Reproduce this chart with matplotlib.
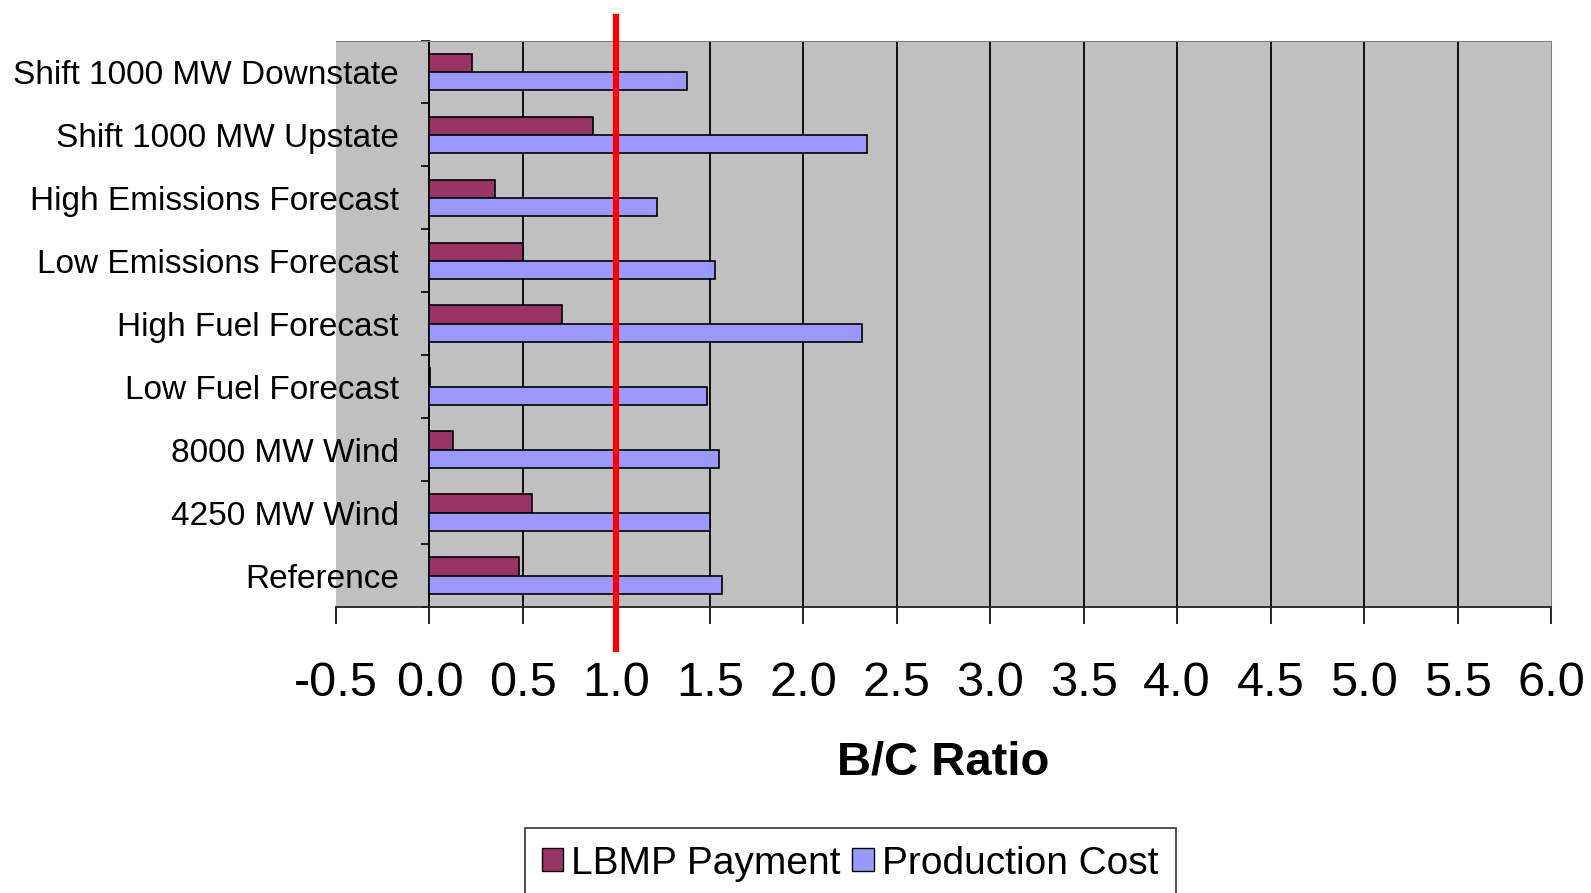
import numpy as np
import matplotlib
matplotlib.use('Agg')
import matplotlib.pyplot as plt
from matplotlib.patches import Patch

plt.rcParams['font.family'] = ['Liberation Sans', 'DejaVu Sans']

# bottom to top, as drawn
scenarios = ['Reference', '4250 MW Wind', '8000 MW Wind', 'Low Fuel Forecast',
             'High Fuel Forecast', 'Low Emissions Forecast', 'High Emissions Forecast',
             'Shift 1000 MW Upstate', 'Shift 1000 MW Downstate']
lbmp = [0.48, 0.55, 0.125, 0.005, 0.71, 0.50, 0.35, 0.876, 0.227]
prod_cost = [1.565, 1.50, 1.55, 1.487, 2.315, 1.525, 1.218, 2.34, 1.38]
xticks = np.arange(-0.5, 6.01, 0.5)
bc_line = 1.0

c_lbmp = '#993366'
c_pc = '#9999FF'

fig = plt.figure(figsize=(15.91, 8.93), dpi=100)
ax = fig.add_axes([336/1591, 1 - 607/893, 1215/1591, 566.5/893])
ax.set_facecolor('#C0C0C0')

y = np.arange(len(scenarios))
h = 0.29
ax.barh(y + h/2, lbmp, height=h, color=c_lbmp, edgecolor='black', linewidth=1.2, zorder=3)
ax.barh(y - h/2, prod_cost, height=h, color=c_pc, edgecolor='black', linewidth=1.2, zorder=3)

ax.set_xlim(-0.5, 6.0)
ax.set_ylim(-0.5, len(scenarios) - 0.5)

# vertical grid
for xv in xticks[1:-1]:
    ax.axvline(xv, color='black', lw=1.3, zorder=1)

ax.spines['top'].set_color('#808080')
ax.spines['right'].set_color('#808080')
ax.spines['bottom'].set_color('#222222')
ax.spines['bottom'].set_linewidth(1.3)
ax.spines['left'].set_position(('data', 0))
ax.spines['left'].set_linewidth(1.3)

ax.set_xticks(xticks)
ax.set_xticklabels([f'{v:.1f}' for v in xticks], fontsize=35)
ax.tick_params(axis='x', length=12, width=1.2, pad=27, direction='out')

ax.set_yticks(y)
ax.set_yticklabels(scenarios, fontsize=24)
ax.set_yticks(np.arange(-0.5, len(scenarios), 1.0), minor=True)
ax.tick_params(axis='y', which='major', length=0, pad=22)
ax.tick_params(axis='y', which='minor', length=6, width=1.2, direction='out')

ax.set_xlabel('B/C Ratio', fontsize=34, fontweight='bold', labelpad=25)

# B/C = 1 line
ax.axvline(bc_line, ymin=-0.074, ymax=1.042, color='#FF0000', lw=4.5, zorder=5, clip_on=False)

handles = [Patch(facecolor=c_lbmp, edgecolor='black'), Patch(facecolor=c_pc, edgecolor='black')]
leg = fig.legend(handles, ['LBMP Payment', 'Production Cost'], loc='upper center',
                 bbox_to_anchor=(850/1591, 1 - 828/893), ncol=2, fontsize=28,
                 frameon=True, fancybox=False, edgecolor='black', handlelength=0.55,
                 handleheight=0.55, handletextpad=0.2, columnspacing=0.3,
                 borderpad=0.45, borderaxespad=0)
leg.get_frame().set_linewidth(1.2)

fig.savefig('out.png', dpi=100)
